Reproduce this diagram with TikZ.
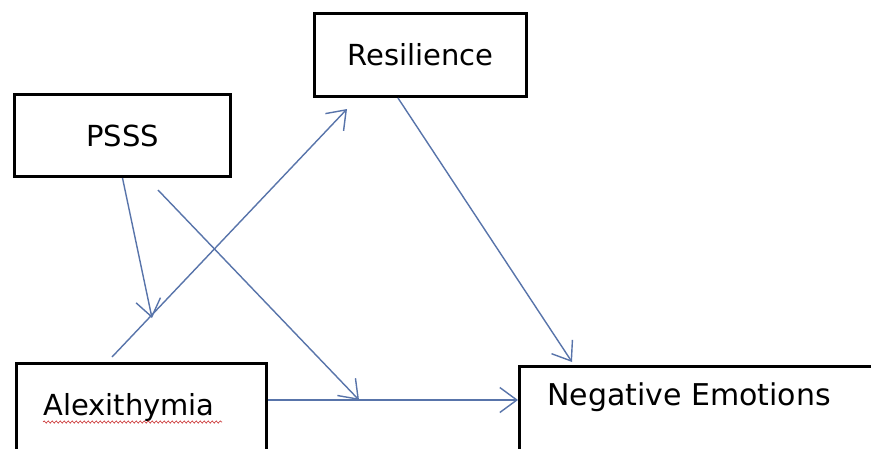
\documentclass[tikz,border=0pt]{standalone}
\usepackage{fontspec}
\setmainfont{DejaVu Sans}
\usetikzlibrary{arrows.meta,decorations.pathmorphing}
\definecolor{arrowblue}{RGB}{88,116,170}
\definecolor{squiggle}{RGB}{200,40,40}
\begin{document}
\begin{tikzpicture}[x=1pt,y=-1pt,
  box/.style={draw=black, line width=3.2pt, rectangle, inner sep=0pt, fill=white,
    font=\fontsize{29}{34}\selectfont},
  lbl/.style={inner sep=0pt, font=\fontsize{29}{34}\selectfont},
  conn/.style={draw=arrowblue, line width=1.4pt,
    -{Straight Barb[length=17pt,width=25pt,line width=1.4pt]}}]
\useasboundingbox (0,0) rectangle (871,448);
\fill[white] (0,0) rectangle (871,448);
\clip (0,0) rectangle (871,448);
% boxes
\node[box, anchor=north west, minimum width=211.8pt, minimum height=82.8pt] (res) at (313,12) {Resilience};
\node[box, anchor=north west, minimum width=215.8pt, minimum height=81.8pt] (psss) at (13,93) {PSSS};
\node[box, anchor=north west, minimum width=249.8pt, minimum height=130pt] (alex) at (15,362) {};
\node[box, anchor=north west, minimum width=400pt, minimum height=130pt] (ne) at (518,365) {};
% labels in the cut-off boxes
\node[lbl, anchor=base west] (alexT) at ([xshift=28pt,yshift=-53pt]alex.north west) {Alexithymia};
\node[lbl, anchor=base west, font=\fontsize{30}{34}\selectfont] (neT) at ([xshift=29pt,yshift=-40pt]ne.north west) {Negative Emotions};
% spell-check squiggle
\draw[squiggle, line width=0.6pt, decorate, decoration={snake, amplitude=1.1pt, segment length=4pt}]
  ([yshift=-7pt]alexT.base west) -- ([xshift=179pt,yshift=-7pt]alexT.base west);
% free ends
\coordinate (m1) at ([xshift=29.5pt,yshift=-140pt]psss.south);
\coordinate (p2) at ([xshift=35.5pt,yshift=-12pt]psss.south);
\coordinate (m2) at ([xshift=91pt,yshift=-38pt]alex.north east);
% connectors
\draw[conn] (psss.south) -- (m1);
\draw[conn] ([xshift=97pt,yshift=5pt]alex.north west) -- ([xshift=34pt,yshift=-11pt]res.south west);
\draw[conn] ([xshift=85pt]res.south west) -- ([xshift=54pt,yshift=3pt]ne.north west);
\draw[conn] ([yshift=-38pt]alex.north east) -- ([yshift=-35pt]ne.north west);
\draw[conn] (p2) -- (m2);
\end{tikzpicture}
\end{document}
